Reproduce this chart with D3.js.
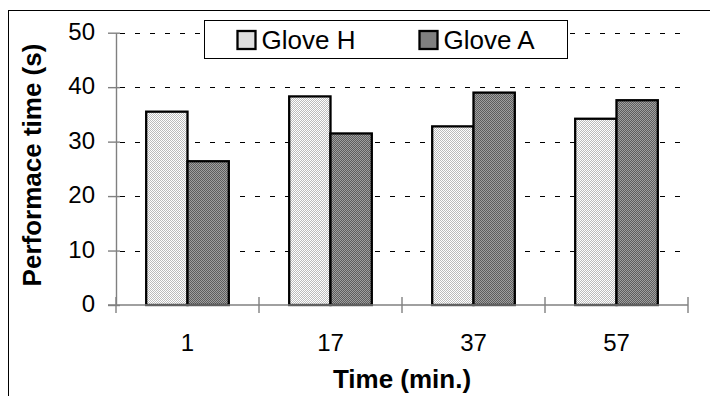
<!DOCTYPE html>
<html>
<head>
<meta charset="utf-8">
<script src="https://cdn.jsdelivr.net/npm/d3@7"></script>
<style>
  html, body { margin: 0; padding: 0; background: #fff; }
  svg { display: block; font-family: "Liberation Sans", Arial, sans-serif; }
</style>
</head>
<body>
<svg id="chart" width="710" height="396"></svg>
<script>
// Performance time per glove type at each measurement time
const categories = ["1", "17", "37", "57"];
const seriesNames = ["Glove H", "Glove A"];
const gloveH = [35.5, 38.3, 32.8, 34.2];
const gloveA = [26.4, 31.5, 39.0, 37.6];
const yTicks = [0, 10, 20, 30, 40, 50];

const svg = d3.select("#chart");
const plot = { left: 116, right: 688, top: 32.7, bottom: 305 };

// dotted fills
const defs = svg.append("defs");
function checker(id, a, b) {
  const p = defs.append("pattern").attr("id", id)
    .attr("width", 2).attr("height", 2).attr("patternUnits", "userSpaceOnUse");
  p.append("rect").attr("width", 2).attr("height", 2).attr("fill", b);
  p.append("rect").attr("x", 0).attr("y", 0).attr("width", 1).attr("height", 1).attr("fill", a);
  p.append("rect").attr("x", 1).attr("y", 1).attr("width", 1).attr("height", 1).attr("fill", a);
}
checker("fillH", "#bcbcbc", "#ffffff");
checker("fillA", "#5e5e5e", "#a0a0a0");
const fills = { "Glove H": "url(#fillH)", "Glove A": "url(#fillA)" };

// outer frame
svg.append("rect").attr("x", 8.5).attr("y", 10.5)
  .attr("width", 720).attr("height", 400)
  .attr("fill", "none").attr("stroke", "#000").attr("stroke-width", 1);

const y = d3.scaleLinear().domain([0, 50]).range([plot.bottom, plot.top]);
const x0 = d3.scaleBand().domain(categories).range([plot.left, plot.right]).padding(0);
const x1 = d3.scaleBand().domain(seriesNames).range([0, x0.bandwidth()])
  .paddingInner(0).paddingOuter(0.731);

// dashed gridlines
svg.append("g").selectAll("line").data(yTicks.filter(d => d > 0)).join("line")
  .attr("x1", plot.left).attr("x2", plot.right)
  .attr("y1", d => Math.round(y(d)) + 0.5).attr("y2", d => Math.round(y(d)) + 0.5)
  .attr("stroke", "#000").attr("stroke-width", 1)
  .attr("stroke-dasharray", "5,10").attr("stroke-dashoffset", 11);

// bars
const rows = categories.map((c, i) => ({ cat: c, values: [
  { key: "Glove H", value: gloveH[i] },
  { key: "Glove A", value: gloveA[i] }
]}));
svg.append("g").selectAll("g").data(rows).join("g")
  .attr("transform", d => `translate(${x0(d.cat)},0)`)
  .selectAll("rect").data(d => d.values).join("rect")
  .attr("x", d => x1(d.key))
  .attr("width", x1.bandwidth())
  .attr("y", d => y(d.value))
  .attr("height", d => y(0) - y(d.value))
  .attr("fill", d => fills[d.key])
  .attr("stroke", "#000").attr("stroke-width", 2.3);

// y axis
const yAxis = svg.append("g").attr("transform", `translate(${plot.left},0)`)
  .call(d3.axisLeft(y).tickValues(yTicks).tickSize(8).tickPadding(13).tickSizeOuter(0));
yAxis.select(".domain").attr("stroke", "#808080").attr("stroke-width", 1.4);
yAxis.selectAll(".tick line").attr("stroke", "#808080").attr("stroke-width", 1.4)
  .attr("x1", 4);
yAxis.selectAll(".tick text").attr("font-size", 24).attr("fill", "#000")
  .attr("font-family", "Liberation Sans, Arial, sans-serif").attr("dy", "0.27em");

// x axis: cross ticks at category boundaries
const xAxis = svg.append("g").attr("transform", `translate(0,${plot.bottom})`);
xAxis.append("line").attr("x1", plot.left - 8).attr("x2", plot.right)
  .attr("y1", 0).attr("y2", 0).attr("stroke", "#808080").attr("stroke-width", 1.4);
const boundaries = categories.map(c => x0(c)).concat([plot.right]);
xAxis.selectAll("line.tk").data(boundaries).join("line").attr("class", "tk")
  .attr("x1", d => d).attr("x2", d => d).attr("y1", -8).attr("y2", 8)
  .attr("stroke", "#808080").attr("stroke-width", 1.4);
xAxis.selectAll("text").data(categories).join("text")
  .attr("x", d => x0(d) + x0.bandwidth() / 2).attr("y", 46)
  .attr("text-anchor", "middle").attr("font-size", 24).attr("fill", "#000")
  .text(d => d);

// axis titles
svg.append("text").attr("x", 402).attr("y", 388)
  .attr("text-anchor", "middle").attr("font-size", 26).attr("font-weight", "bold")
  .text("Time (min.)");
svg.append("text")
  .attr("transform", "translate(41,165) rotate(-90)")
  .attr("text-anchor", "middle").attr("font-size", 26).attr("font-weight", "bold")
  .text("Performace time (s)");

// legend
const legend = svg.append("g");
legend.append("rect").attr("x", 204.5).attr("y", 20.5).attr("width", 363).attr("height", 38)
  .attr("fill", "#fff").attr("stroke", "#000").attr("stroke-width", 1);
const legendX = [237.5, 419.5];
const items = legend.selectAll("g.item").data(seriesNames).join("g").attr("class", "item")
  .attr("transform", (d, i) => `translate(${legendX[i]},31)`);
items.append("rect").attr("width", 18).attr("height", 18)
  .attr("fill", d => fills[d]).attr("stroke", "#000").attr("stroke-width", 2.3);
items.append("text").attr("x", 24).attr("y", 18)
  .attr("font-size", 26).attr("fill", "#000").text(d => d);
</script>
</body>
</html>
